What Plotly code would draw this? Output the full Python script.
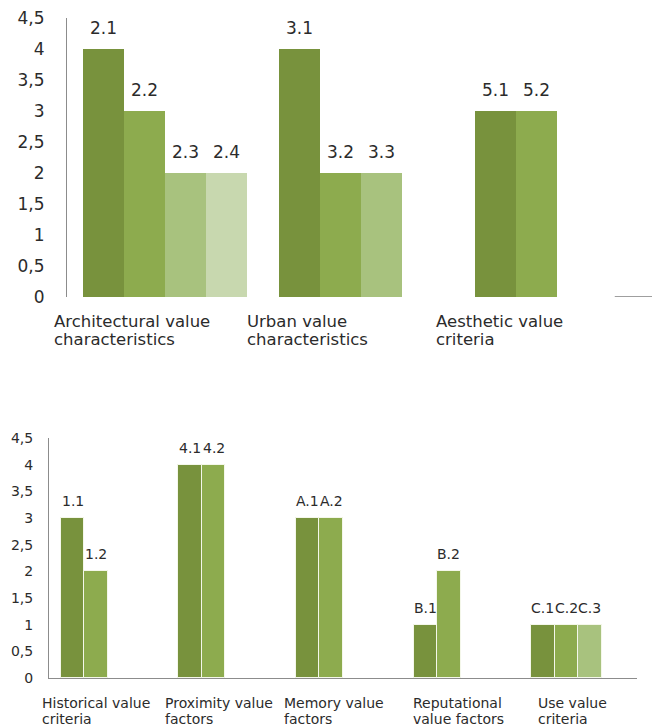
import plotly.graph_objects as go

# ---------------- data ----------------
top_categories = [["Architectural value", "characteristics"],
                  ["Urban value", "characteristics"],
                  ["Aesthetic value", "criteria"]]
top_labels = [["2.1", "2.2", "2.3", "2.4"], ["3.1", "3.2", "3.3"], ["5.1", "5.2"]]
top_values = [[4, 3, 2, 2], [4, 2, 2], [3, 3]]

bottom_categories = [["Historical value", "criteria"],
                     ["Proximity value", "factors"],
                     ["Memory value", "factors"],
                     ["Reputational", "value factors"],
                     ["Use value", "criteria"]]
bottom_labels = [["1.1", "1.2"], ["4.1", "4.2"], ["A.1", "A.2"], ["B.1", "B.2"], ["C.1", "C.2", "C.3"]]
bottom_values = [[3, 2], [4, 4], [3, 3], [1, 2], [1, 1, 1]]

y_ticks = [0, 0.5, 1, 1.5, 2, 2.5, 3, 3.5, 4, 4.5]
y_ticktext = [("%g" % v).replace(".", ",") for v in y_ticks]

# ---------------- style ----------------
W, H = 652, 726
FONT = "DejaVu Sans"
TXT = "#2b2b2b"
AXIS = "#8c8c8c"
colors = ["#78923D", "#8DAB4E", "#A8C27E", "#C8D8AF"]
n_slots = 4

top_bar_w = 0.209
bot_bar_w = 0.2
top_dom = [67 / W, 1]
top_range = [-0.5, -0.5 + 585 / 196]
bot_dom = [49 / W, 637 / W]
bot_range = [-0.5, 4.5]
top_label_shift = [-0.577, -0.592, -0.628]
bot_label_shift = [-0.577, -0.531, -0.519, -0.422, -0.359]


def to_paper(x, dom, rng):
    return dom[0] + (x - rng[0]) / (rng[1] - rng[0]) * (dom[1] - dom[0])


fig = go.Figure()


def add_bars(values, labels, w, xa, ya, outline, fsize, yshift, anns):
    for j in range(n_slots):
        xs, ys = [], []
        for i, vals in enumerate(values):
            if j < len(vals):
                xs.append(i + (j - (n_slots - 1) / 2) * w)
                ys.append(vals[j])
                anns.append(dict(x=xs[-1], y=vals[j], xref=xa, yref=ya,
                                 text=labels[i][j], showarrow=False,
                                 yshift=yshift, yanchor="middle",
                                 font=dict(family=FONT, size=fsize, color=TXT)))
        if xs:
            fig.add_trace(go.Bar(x=xs, y=ys, width=w, xaxis=xa, yaxis=ya,
                                 marker=dict(color=colors[j],
                                             line=dict(color=outline[0], width=outline[1])),
                                 hoverinfo="skip", showlegend=False))


anns = []
add_bars(top_values, top_labels, top_bar_w, "x", "y", ("rgba(0,0,0,0)", 0), 17, 21, anns)
add_bars(bottom_values, bottom_labels, bot_bar_w, "x2", "y2", ("#f4f7ea", 1), 14, 17, anns)

# category labels (one annotation per line, left aligned)
for i, lines in enumerate(top_categories):
    for k, line in enumerate(lines):
        anns.append(dict(x=to_paper(i + top_label_shift[i], top_dom, top_range),
                         xref="paper", xanchor="left",
                         y=1 - (322 + 17.5 * k) / H, yref="paper", yanchor="middle",
                         text=line, showarrow=False,
                         font=dict(family=FONT, size=16.5, color=TXT)))
for i, lines in enumerate(bottom_categories):
    for k, line in enumerate(lines):
        anns.append(dict(x=to_paper(i + bot_label_shift[i], bot_dom, bot_range),
                         xref="paper", xanchor="left",
                         y=1 - (703 + 15.5 * k) / H, yref="paper", yanchor="middle",
                         text=line, showarrow=False,
                         font=dict(family=FONT, size=14, color=TXT)))

fig.update_layout(
    width=W, height=H,
    margin=dict(l=0, r=0, t=0, b=0, autoexpand=False),
    paper_bgcolor="white", plot_bgcolor="white",
    barmode="overlay", bargap=0,
    showlegend=False,
    annotations=anns,
    xaxis=dict(domain=top_dom, range=top_range, anchor="y", automargin=False,
               showticklabels=False, showgrid=False, zeroline=False, showline=False),
    yaxis=dict(domain=[1 - 297 / H, 1 - 18 / H], range=[0, 4.5], anchor="x",
               automargin=False,
               tickvals=y_ticks, ticktext=y_ticktext, ticks="",
               showline=True, linecolor=AXIS, linewidth=1,
               showgrid=False, zeroline=False, ticklabelstandoff=18,
               tickfont=dict(family=FONT, size=17, color=TXT)),
    xaxis2=dict(domain=bot_dom, range=bot_range, anchor="y2", automargin=False,
                showticklabels=False, showgrid=False, zeroline=False,
                showline=True, linecolor=AXIS, linewidth=1),
    yaxis2=dict(domain=[1 - 678 / H, 1 - 438 / H], range=[0, 4.5], anchor="x2",
                automargin=False,
                tickvals=y_ticks, ticktext=y_ticktext, ticks="",
                showline=True, linecolor=AXIS, linewidth=1,
                showgrid=False, zeroline=False, ticklabelstandoff=12,
                tickfont=dict(family=FONT, size=14, color=TXT)),
    shapes=[dict(type="line", xref="x", yref="y", x0=top_range[1] - 0.19, x1=top_range[1],
                 y0=0, y1=0, line=dict(color="#7f7f7f", width=1.5))],
)

fig.write_html("out.html")
